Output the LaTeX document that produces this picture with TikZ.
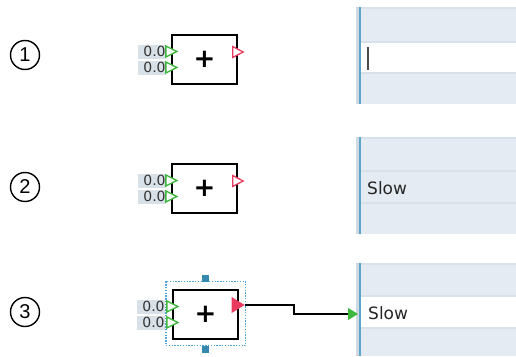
\documentclass[tikz,border=0pt]{standalone}
\usepackage{fontspec}
\setmainfont{DejaVu Sans}
\newfontfamily\numfont{Liberation Sans}
\usetikzlibrary{arrows.meta}

\definecolor{panelbg}{HTML}{E4EBF2}
\definecolor{rowline}{HTML}{D8E0E9}
\definecolor{edgegray}{HTML}{D0D8E0}
\definecolor{edgeblue}{HTML}{5DA5CB}
\definecolor{labelbg}{HTML}{D8E0E8}
\definecolor{portgreen}{HTML}{3DB83D}
\definecolor{portred}{HTML}{E83A5F}
\definecolor{selblue}{HTML}{4FA6DA}
\definecolor{handle}{HTML}{3589AE}

\tikzset{
  stepnum/.style={circle, draw, line width=1.4pt, minimum size=29pt, inner sep=0pt, font=\numfont\fontsize{20}{20}\selectfont},
  blockbox/.style={draw, line width=1.3pt, fill=white, minimum width=65pt, minimum height=49pt, inner sep=0pt, font=\fontsize{26}{26}\selectfont\bfseries},
  valbox/.style={fill=labelbg, anchor=east, minimum height=14pt, text width=27pt, align=right, inner sep=0.5pt, font=\fontsize{14}{14}\selectfont, text=black!80},
  inport/.style={draw=portgreen, fill=white, line width=1.3pt},
  outport/.style={draw=portred, fill=white, line width=1.3pt},
  fieldtext/.style={anchor=west, inner sep=0pt, font=\fontsize{17}{17}\selectfont, text=black!85},
  selbox/.style={draw=selblue, line width=1.4pt, dash pattern=on 1.4pt off 1.4pt},
  grip/.style={fill=handle, minimum size=7pt, inner sep=0pt},
  wire/.style={line width=1.2pt, -{Triangle[length=10pt,width=12pt,color=portgreen]}},
}

\begin{document}
\begin{tikzpicture}[x=1pt,y=-1pt]
  \useasboundingbox (0,0) rectangle (516,356);

  % property panels
  \foreach \t/\ra/\rb/\b/\rowfill in {7/42/73/104/white, 137/171/203/234/panelbg, 263/296/328/356/white}{
    \fill[panelbg] (358,\t) rectangle (516,\b);
    \fill[\rowfill] (361,\ra) rectangle (516,\rb);
    \draw[rowline, line width=1.5pt] (361,\t+0.75) -- (516,\t+0.75);
    \draw[rowline, line width=1.5pt] (361,\ra) -- (516,\ra);
    \draw[rowline, line width=1.5pt] (361,\rb) -- (516,\rb);
    \fill[edgegray] (356,\t) rectangle (359,\b);
    \fill[edgeblue] (359,\t) rectangle (361,\b);
  }
  \draw[black!70, line width=1.5pt] (368,47) -- (368,70);
  \node[fieldtext] (fieldB) at (367,188) {Slow};
  \node[fieldtext] (fieldtextC) at (368,313) {Slow};
  \coordinate (fieldC) at (358,314);

  % step numbers
  \node[stepnum] (numA) at (25,55) {1};
  \node[stepnum] (numB) at (25,187) {2};
  \node[stepnum] (numC) at (25,312) {3};

  % adder blocks
  \node[blockbox] (blockA) at (204.5,59.5) {+};
  \node[blockbox] (blockB) at (204.5,188.5) {+};
  \node[blockbox] (blockC) at (205.5,314.5) {+};

  % selection of the third block
  \draw[selbox] ([xshift=-6.5pt,yshift=8pt]blockC.north west) rectangle ([xshift=7pt,yshift=-6pt]blockC.south east);
  \node[grip] (gripT) at ([yshift=11pt]blockC.north) {};
  \node[grip] (gripB) at ([yshift=-10pt]blockC.south) {};

  % input values and ports
  \foreach \blk/\dx in {blockA/-5, blockB/-5, blockC/-7}{
    \node[valbox] (\blk v1) at ([xshift=\dx pt,yshift=8pt]\blk.west) {0.0};
    \node[valbox] (\blk v2) at ([xshift=\dx pt,yshift=-8pt]\blk.west) {0.0};
    \filldraw[inport] ([yshift=8pt]\blk.west) ++(-5.5,-5.5) -- ++(11,5.5) -- ++(-11,5.5) -- cycle;
    \filldraw[inport] ([yshift=-8pt]\blk.west) ++(-5.5,-5.5) -- ++(11,5.5) -- ++(-11,5.5) -- cycle;
  }

  % output ports
  \foreach \blk in {blockA, blockB}{
    \filldraw[outport] ([yshift=7.5pt]\blk.east) ++(-5,-5.5) -- ++(10.5,5.5) -- ++(-10.5,5.5) -- cycle;
  }
  \fill[portred] ([yshift=9.5pt]blockC.east) ++(-7,-8) -- ++(13,8) -- ++(-13,8) -- cycle;
  \coordinate (outC) at ([xshift=6pt,yshift=9.5pt]blockC.east);

  % connection
  \coordinate (kink) at (294,314);
  \draw[wire] (outC) -| (kink) -- (fieldC);
\end{tikzpicture}
\end{document}
